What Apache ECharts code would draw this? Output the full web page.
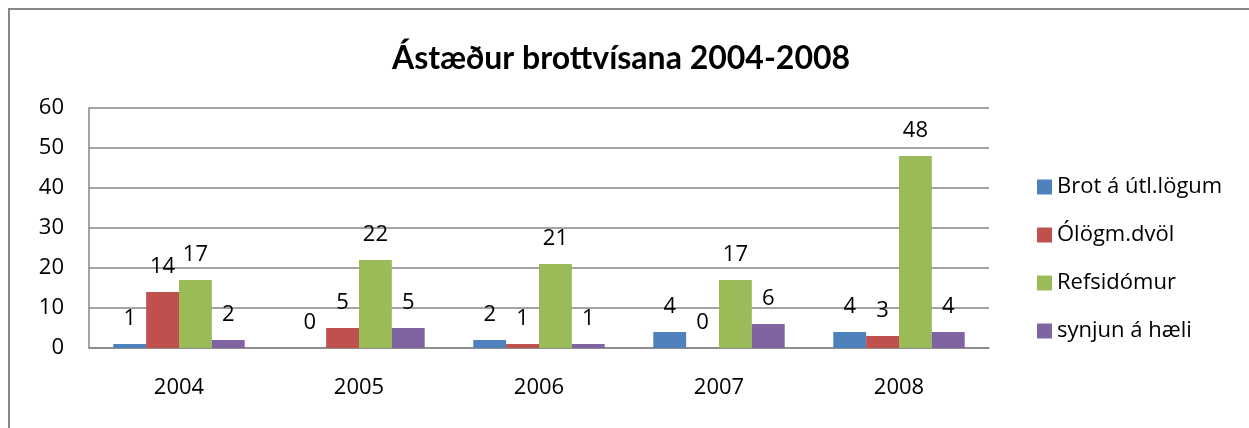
<!DOCTYPE html>
<html>
<head>
<meta charset="utf-8">
<script src="https://cdn.jsdelivr.net/npm/echarts@6/dist/echarts.min.js"></script>
<style>
  html, body { margin: 0; padding: 0; background: #fff; }
  #chart { width: 1249px; height: 428px; }
</style>
</head>
<body>
<div id="chart"></div>
<script>
// data
var years = ['2004', '2005', '2006', '2007', '2008'];
var seriesNames = ['Brot á útl.lögum', 'Ólögm.dvöl', 'Refsidómur', 'synjun á hæli'];
var brot = [1, 0, 2, 4, 4];
var ologm = [14, 5, 1, 0, 3];
var refsi = [17, 22, 21, 17, 48];
var synjun = [2, 5, 1, 6, 4];
var colors = ['#4F81BD', '#C0504D', '#9BBB59', '#8064A2'];

var font = '"Open Sans", Lato, sans-serif';
var chart = echarts.init(document.getElementById('chart'));

function bar(name, data) {
  return {
    name: name,
    type: 'bar',
    data: data,
    barGap: 0,
    barCategoryGap: '27%',
    label: {
      show: true,
      position: 'top',
      distance: 14,
      color: '#000',
      fontSize: 22,
      fontFamily: font
    }
  };
}

var option = {
  animation: false,
  color: colors,
  textStyle: { fontFamily: font },
  title: {
    text: 'Ástæður brottvísana 2004-2008',
    left: 616,
    top: 38,
    textAlign: 'center',
    textStyle: { fontSize: 32, fontWeight: 'bold', color: '#000', fontFamily: 'Lato, sans-serif' }
  },
  graphic: [{
    type: 'rect',
    shape: { x: 9, y: 9, width: 1400, height: 600 },
    style: { fill: 'none', stroke: '#878787', lineWidth: 2 },
    silent: true
  }],
  legend: {
    orient: 'vertical',
    left: 1032,
    top: 170,
    itemWidth: 15,
    itemHeight: 15,
    itemGap: 24,
    icon: 'rect',
    textStyle: { fontSize: 22, lineHeight: 24, color: '#000', fontFamily: font },
    data: seriesNames
  },
  grid: { left: 89, right: 260, top: 108, bottom: 80 },
  xAxis: {
    type: 'category',
    data: years,
    axisLine: { lineStyle: { color: '#868686', width: 1.5 } },
    axisTick: { show: false },
    axisLabel: { color: '#000', fontSize: 22, margin: 29, fontFamily: font }
  },
  yAxis: {
    type: 'value',
    min: 0,
    max: 60,
    interval: 10,
    axisLine: { show: true, lineStyle: { color: '#868686', width: 1.5 } },
    axisTick: { show: false },
    axisLabel: { color: '#000', fontSize: 22, margin: 25, fontFamily: font },
    splitLine: { lineStyle: { color: '#868686', width: 1.5 } }
  },
  series: [
    bar(seriesNames[0], brot),
    bar(seriesNames[1], ologm),
    bar(seriesNames[2], refsi),
    bar(seriesNames[3], synjun)
  ]
};
chart.setOption(option);
</script>
</body>
</html>
